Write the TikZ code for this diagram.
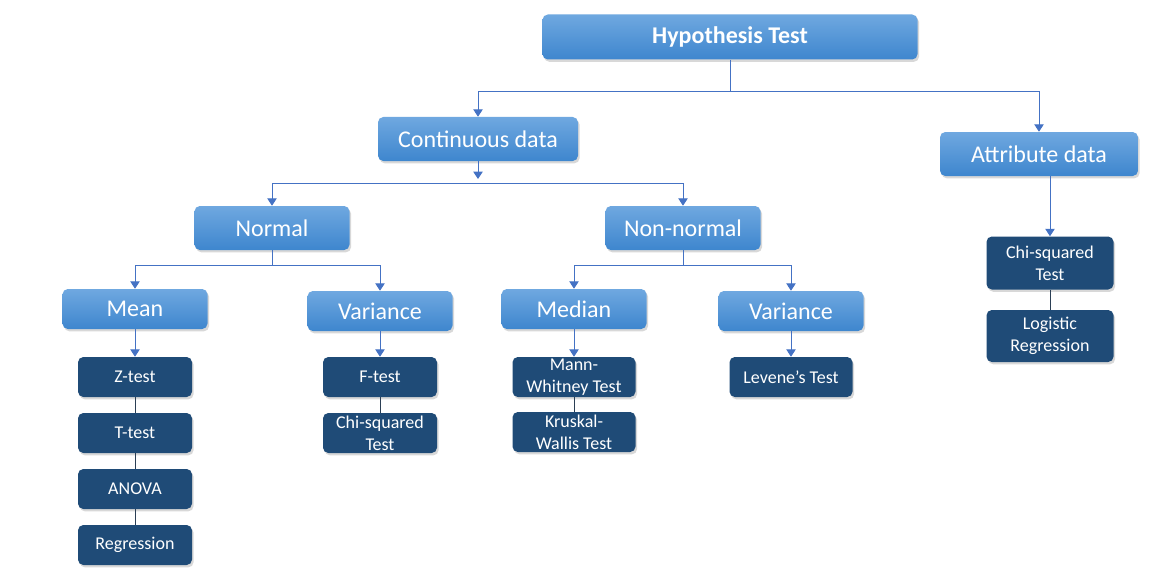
\documentclass[tikz,border=0pt]{standalone}
\usepackage{fontspec}
\setmainfont{Carlito}
\usetikzlibrary{shadows}
\usetikzlibrary{arrows.meta}

\definecolor{lighttop}{HTML}{6FA8E0}
\definecolor{lightbot}{HTML}{3E86CE}
\definecolor{darkbox}{HTML}{1F4B77}
\definecolor{linkblue}{HTML}{4472C4}
\definecolor{stackline}{HTML}{2B3F55}

\def\px{0.75pt}

\tikzset{lightbox/.style = {rounded corners=4pt, inner sep=0pt, text=white,
                            top color=lighttop, bottom color=lightbot,
                            drop shadow={shadow xshift=1.2pt, shadow yshift=-1.8pt, opacity=0.3},
                            font=\fontsize{18}{21}\selectfont}
        }

\tikzset{headbox/.style = {lightbox, font=\fontsize{18}{21}\selectfont\bfseries,
                           minimum width=375*\px, minimum height=45*\px}
        }

\tikzset{testbox/.style = {rounded corners=4pt, inner sep=0pt, text=white, fill=darkbox,
                           align=center, minimum height=40*\px,
                           drop shadow={shadow xshift=1.2pt, shadow yshift=-1.8pt, opacity=0.3},
                           font=\fontsize{13.5}{16.5}\selectfont}
        }

\tikzset{link/.style  = {draw=linkblue, line width=0.75pt}}
\tikzset{stack/.style = {draw=stackline, line width=0.6pt}}

\begin{document}
\begin{tikzpicture}[x=0.75pt, y=-0.75pt, >={Triangle[width=7pt, length=5.5pt]}]

\useasboundingbox[fill=white] (0,0) rectangle (1157,585);

%levels of the tree
\node[headbox] (hyp) at (730, 37) {Hypothesis Test};

\node[lightbox, minimum width=200*\px, minimum height=44*\px] (cont) at ( 478,139) {Continuous data};
\node[lightbox, minimum width=198*\px, minimum height=44*\px] (attr) at (1039,154) {Attribute data};

\node[lightbox, minimum width=155*\px, minimum height=44*\px] (norm) at (272,228) {Normal};
\node[lightbox, minimum width=155*\px, minimum height=44*\px] (nonn) at (683,228) {Non-normal};

\node[lightbox, minimum width=145*\px, minimum height=40*\px] (mean) at (135,309) {Mean};
\node[lightbox, minimum width=145*\px, minimum height=40*\px] (varn) at (380,311) {Variance};
\node[lightbox, minimum width=145*\px, minimum height=40*\px] (medi) at (574,309) {Median};
\node[lightbox, minimum width=145*\px, minimum height=40*\px] (varm) at (791,311) {Variance};

%tests for the mean
\node[testbox, minimum width=114*\px] (ztest) at (135,377) {Z-test};
\node[testbox, minimum width=114*\px] (ttest) at (135,433) {T-test};
\node[testbox, minimum width=114*\px] (anova) at (135,489) {ANOVA};
\node[testbox, minimum width=114*\px] (regr)  at (135,545) {Regression};

%tests for the variance
\node[testbox, minimum width=114*\px] (ftest) at (380,377) {F-test};
\node[testbox, minimum width=114*\px] (chin)  at (380,433) {Chi-squared\\Test};

%non-normal tests
\node[testbox, minimum width=123*\px] (mann)  at (574,377) {Mann-\\Whitney Test};
\node[testbox, minimum width=123*\px] (krus)  at (574,432) {Kruskal-\\Wallis Test};
\node[testbox, minimum width=123*\px] (leve)  at (791,377) {Levene’s Test};

%attribute tests
\node[testbox, minimum width=127*\px, minimum height=53*\px] (chia) at (1050,263) {Chi-squared\\Test};
\node[testbox, minimum width=127*\px, minimum height=52*\px] (logi) at (1050,336) {Logistic\\Regression};

%connectors
\coordinate (jhyp)  at (730, 92);
\coordinate (jcont) at (478,183);
\coordinate (jnorm) at (272,265);
\coordinate (jnonn) at (683,265);

\draw[link] (hyp.south) -- (jhyp);
\draw[link, ->] (jhyp) -| (cont.north);
\draw[link, ->] (jhyp) -| (attr.north);

\draw[link, ->, shorten >=4*\px] (cont.south) -- (jcont);
\draw[link, ->] (jcont) -| (norm.north);
\draw[link, ->] (jcont) -| (nonn.north);

\draw[link] (norm.south) -- (jnorm);
\draw[link, ->] (jnorm) -| (mean.north);
\draw[link, ->] (jnorm) -| (varn.north);

\draw[link] (nonn.south) -- (jnonn);
\draw[link, ->] (jnonn) -| (medi.north);
\draw[link, ->] (jnonn) -| (varm.north);

\draw[link, ->] (mean) -- (ztest);
\draw[link, ->] (varn) -- (ftest);
\draw[link, ->] (medi) -- (mann);
\draw[link, ->] (varm) -- (leve);
\draw[link, ->] (attr.south -| chia.north) -- (chia.north);

%stacked tests
\draw[stack] (ztest) -- (ttest);
\draw[stack] (ttest) -- (anova);
\draw[stack] (anova) -- (regr);
\draw[stack] (ftest) -- (chin);
\draw[stack] (mann)  -- (krus);
\draw[stack] (chia)  -- (logi);

\end{tikzpicture}
\end{document}
